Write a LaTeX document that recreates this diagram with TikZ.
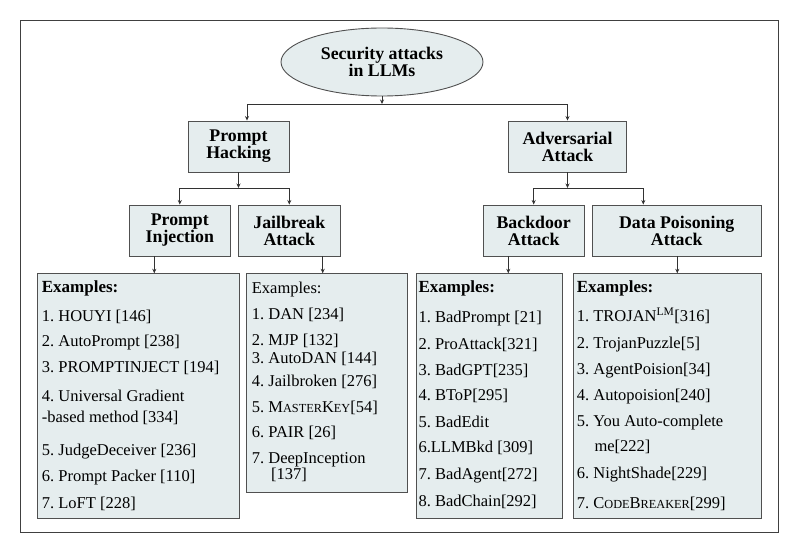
\documentclass[tikz,border=0pt]{standalone}
\usepackage{fontspec}
\setmainfont{Liberation Serif}
\usetikzlibrary{shapes.geometric,arrows.meta}
\definecolor{boxfill}{RGB}{229,237,238}
\definecolor{boxline}{RGB}{80,80,80}
\definecolor{linkline}{RGB}{50,50,50}
% uppercase letters set smaller, standing in for small capitals
\newcommand{\fakesc}[1]{{\fontsize{12.3}{12.3}\selectfont #1}}
\frenchspacing
\begin{document}
\begin{tikzpicture}[x=1pt,y=-1pt,
  catbox/.style={draw=boxline,fill=boxfill,line width=0.9pt,inner sep=0pt,
    align=center,font=\fontsize{17.8}{17}\selectfont\bfseries},
  rootnode/.style={ellipse,draw=boxline,fill=boxfill,line width=0.9pt,inner sep=0pt,
    align=center,font=\fontsize{17.8}{17}\selectfont\bfseries},
  listbox/.style={draw=boxline,fill=boxfill,line width=0.9pt,inner sep=0pt,anchor=north west},
  itemtxt/.style={anchor=base west,inner sep=0pt,font=\fontsize{16.5}{18}\selectfont},
  headtxt/.style={itemtxt,font=\fontsize{17}{18}\selectfont\bfseries},
  link/.style={draw=linkline,line width=0.8pt,-{Stealth[length=4.5pt,width=4pt]}},
  framebox/.style={draw=black!75,line width=1pt}]

\useasboundingbox (0,0) rectangle (788,548);
\draw[framebox] (20,21) rectangle (778,532);

% root and category boxes
\node[rootnode,minimum width=202pt,minimum height=68pt] (root) at (382,62) {Security attacks\\in LLMs};
\node[catbox,minimum width=101pt,minimum height=51pt] (ph) at (238.5,146.5) {Prompt\\Hacking};
\node[catbox,minimum width=118.4pt,minimum height=51pt] (aa) at (567.5,146.5) {Adversarial\\Attack};
\node[catbox,minimum width=101pt,minimum height=51pt] (pi) at (179.8,230.5) {Prompt\\Injection};
\node[catbox,minimum width=101.3pt,minimum height=51pt] (jb) at (289.3,230.5) {Jailbreak\\Attack};
\node[catbox,minimum width=100.7pt,minimum height=51pt] (bd) at (533.7,230.5) {Backdoor\\Attack};
\node[catbox,minimum width=168.7pt,minimum height=51pt] (dp) at (676.7,230.5) {Data Poisoning\\Attack};

% example lists
\node[listbox,minimum width=202.3pt,minimum height=245pt] (e1) at (36.7,273.3) {};
\node[listbox,minimum width=161.3pt,minimum height=218.4pt] (e2) at (245.7,273.3) {};
\node[listbox,minimum width=146.6pt,minimum height=245pt] (e3) at (415.7,273.3) {};
\node[listbox,minimum width=188.3pt,minimum height=245pt] (e4) at (572.7,273.3) {};

\node[headtxt] (e1h) at (41.7,293) {Examples:};
\foreach \y/\t [count=\i] in {321.7/{1. HOUYI [146]}, 347/{2. AutoPrompt [238]},
    372.7/{3. PROMPTINJECT [194]}, 402/{4. Universal Gradient},
    422.7/{-based method [334]}, 455/{5. JudgeDeceiver [236]},
    481.7/{6. Prompt Packer [110]}, 508/{7. LoFT [228]}}
  \node[itemtxt] (e1t\i) at (41.7,\y) {\t};

\node[itemtxt] (e2h) at (251.7,293.3) {Examples:};
\foreach \y/\t [count=\i] in {320/{1. DAN [234]}, 345/{2. MJP [132]},
    363.3/{3. AutoDAN [144]}, 386/{4. Jailbroken [276]},
    412.5/{5. M\fakesc{ASTER}K\fakesc{EY}[54]}, 437.5/{6. PAIR [26]},
    463.3/{7. DeepInception}}
  \node[itemtxt] (e2t\i) at (251.7,\y) {\t};
\node[itemtxt] (e2t8) at (271,479.3) {[137]};

\node[headtxt] (e3h) at (418.3,293) {Examples:};
\foreach \y/\t [count=\i] in {323/{1. BadPrompt [21]}, 349/{2. ProAttack[321]},
    375/{3. BadGPT[235]}, 400.7/{4. BToP[295]}, 428/{5. BadEdit},
    452.7/{6.LLMBkd [309]}, 479/{7. BadAgent[272]}, 506.7/{8. BadChain[292]}}
  \node[itemtxt] (e3t\i) at (418.3,\y) {\t};

\node[headtxt] (e4h) at (576.7,293) {Examples:};
\foreach \y/\t [count=\i] in {321.7/{1. TROJAN\textsuperscript{LM}[316]},
    348.3/{2. TrojanPuzzle[5]}, 374.3/{3. AgentPoision[34]},
    400/{4. Autopoision[240]}, 426.7/{5. You Auto-complete},
    478.3/{6. NightShade[229]}, 508.3/{7. C\fakesc{ODE}B\fakesc{REAKER}[299]}}
  \node[itemtxt] (e4t\i) at (576.7,\y) {\t};
\node[itemtxt] (e4t8) at (594.3,451.7) {me[222]};

% junction points of the tree
\coordinate (j1) at (382,104);
\coordinate (j2) at (238.5,188);
\coordinate (j3) at (567.5,188);

\draw[link] (root.south) -- (j1);
\draw[link] (j1) -| ([xshift=8.5pt]ph.north);
\draw[link] (j1) -| (aa.north);

\draw[link] (ph.south) -- (j2);
\draw[link] (j2) -| (pi.north);
\draw[link] (j2) -| (jb.north);

\draw[link] (aa.south) -- (j3);
\draw[link] (j3) -| (bd.north);
\draw[link] (j3) -| ([xshift=-33.4pt]dp.north);

% drops into the example lists
\coordinate (a1) at ([xshift=-25.5pt]pi.south);
\coordinate (a2) at ([xshift=33.4pt]jb.south);
\coordinate (a3) at ([xshift=-25.4pt]bd.south);
\coordinate (a4) at ([xshift=0.6pt]dp.south);
\draw[link] (a1) -- (a1 |- e1.north);
\draw[link] (a2) -- (a2 |- e2.north);
\draw[link] (a3) -- (a3 |- e3.north);
\draw[link] (a4) -- (a4 |- e4.north);
\end{tikzpicture}
\end{document}
